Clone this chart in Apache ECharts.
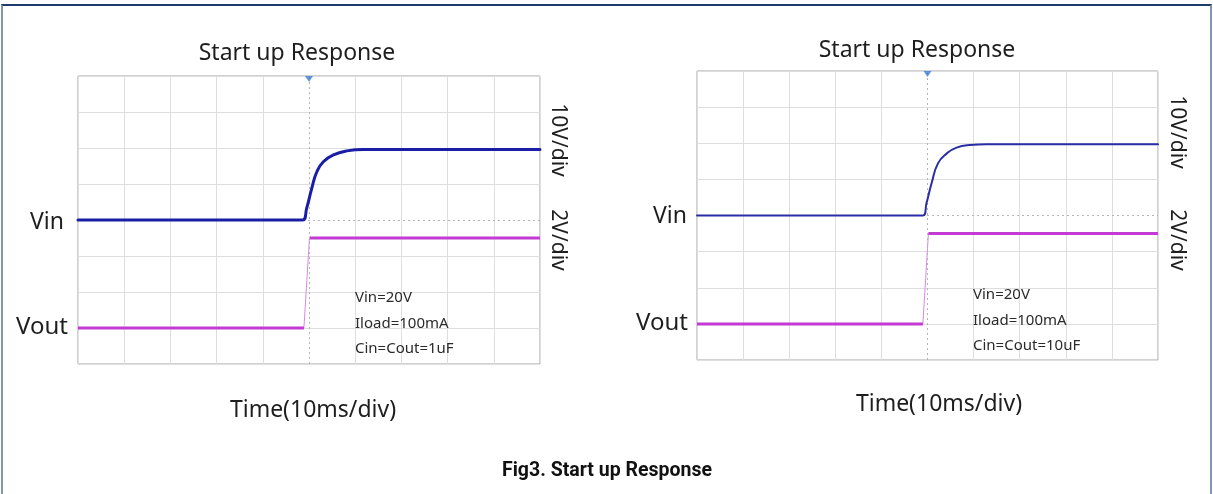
<!DOCTYPE html>
<html><head><meta charset="utf-8">
<script src="https://cdn.jsdelivr.net/npm/echarts@6/dist/echarts.min.js"></script>
<style>
html,body{margin:0;padding:0;background:#fff;width:1213px;height:494px;overflow:hidden}
#frame{position:absolute;left:1px;top:4px;width:1211px;height:492px;border-top:2px solid #1d3a6c;border-left:2px solid #8095b0;border-right:2px solid #8095b0;box-sizing:border-box}
#chart{position:absolute;left:0;top:0;width:1213px;height:494px}
</style></head><body>
<div id="frame"></div><div id="chart"></div>
<script>
// Time axis: 10 ms/div, trigger at 0
const timeRange = [-50, 50, 10];
// Vin channel: 10 V/div, zero at 4th division; Vout channel: 2 V/div, zero at 1st division
const vinRange = [-40, 40, 10];
const voutRange = [-2, 14, 2];
const triggerTime = [0];

// Left scope: Cin=Cout=1uF
const vinLeftT  = [-50, -1.4, -0.5, 0.6, 1.7, 3.1, 5.3, 8.2, 11.8, 50];
const vinLeftV  = [0,    0,    3.3,  8.8, 13.4, 16.2, 18.1, 19.2, 19.6, 19.6];
const voutLeftT = [-50, -1.1, 0.1, 50];
const voutLeftV = [0,    0,   5.0, 5.0];

// Right scope: Cin=Cout=10uF
const vinRightT  = [-50, -1.0, -0.2, 0.9, 2.3, 4.2, 6.3, 9.2, 12.8, 50];
const vinRightV  = [0,    0,    3.5,  9.0, 14.5, 17.2, 18.8, 19.5, 19.7, 19.7];
const voutRightT = [-50, -1.0, 0.2, 50];
const voutRightV = [0,    0,   5.0, 5.0];

const chartTitle = 'Start up Response';
const xName = 'Time(10ms/div)';
const vinDiv = '10V/div', voutDiv = '2V/div';
const notesLeft = ['Vin=20V', 'Iload=100mA', 'Cin=Cout=1uF'];
const notesRight = ['Vin=20V', 'Iload=100mA', 'Cin=Cout=10uF'];
const caption = 'Fig3. Start up Response';

function pts(t, v) { return t.map((x, i) => [x, v[i]]); }
function flats(t, v) {
  const out = [];
  for (let i = 0; i < t.length; i++) {
    out.push([t[i], v[i]]);
    if (i < t.length - 1 && Math.abs(v[i + 1] - v[i]) > 1 && (t[i + 1] - t[i]) < 3) out.push('-');
  }
  return out;
}

const gridCol = '#dedede';
const xSplitColors = [];
for (let i = 0; i <= 10; i++) xSplitColors.push(i === 5 ? 'rgba(0,0,0,0)' : gridCol);
const ySplitColors = [];
for (let i = 0; i <= 8; i++) ySplitColors.push(i === 4 ? 'rgba(0,0,0,0)' : gridCol);

const grids = [
  {left: 78, top: 76, width: 462, height: 288},
  {left: 697, top: 71, width: 461, height: 289}
];

function xAx(g) {
  return {type: 'value', gridIndex: g, min: timeRange[0], max: timeRange[1], interval: timeRange[2],
    axisLine: {show: false}, axisTick: {show: false}, axisLabel: {show: false},
    splitLine: {show: true, lineStyle: {color: xSplitColors, width: 1}}};
}
function yAx(g, r, split) {
  return {type: 'value', gridIndex: g, min: r[0], max: r[1], interval: r[2],
    axisLine: {show: false}, axisTick: {show: false}, axisLabel: {show: false},
    splitLine: {show: split, lineStyle: {color: ySplitColors, width: 1}}};
}

const font = '"Noto Sans", "DejaVu Sans", sans-serif';
const txtCol = '#1e1e1e';

function scopeSeries(gi, vinT, vinV, voutT, voutV, vinColor, vinWidth) {
  const yv = gi * 2, yo = gi * 2 + 1;
  return [
    {type: 'line', xAxisIndex: gi, yAxisIndex: yv, data: [[triggerTime[0], 0]], showSymbol: false, silent: true, z: 1,
      lineStyle: {width: 0},
      markLine: {silent: true, symbol: 'none', label: {show: false}, animation: false,
        lineStyle: {type: [2, 3], color: '#b4b4b4', width: 1},
        data: [{xAxis: triggerTime[0]}, {yAxis: 0}]}},
    {type: 'line', xAxisIndex: gi, yAxisIndex: yo, data: pts(voutT, voutV), showSymbol: false, silent: true, z: 3,
      lineStyle: {color: '#d88ae6', width: 1}},
    {type: 'line', xAxisIndex: gi, yAxisIndex: yo, data: flats(voutT, voutV), showSymbol: false, silent: true, z: 4,
      connectNulls: false, lineStyle: {color: '#c43ad4', width: 3}},
    {type: 'line', xAxisIndex: gi, yAxisIndex: yv, data: pts(vinT, vinV), showSymbol: false, silent: true, z: 5,
      smooth: 0.5, lineStyle: {color: vinColor, width: vinWidth, join: 'round', cap: 'round'}},
    {type: 'scatter', xAxisIndex: gi, yAxisIndex: yv, data: [[triggerTime[0], vinRange[1]]], silent: true, z: 6,
      symbol: 'triangle', symbolRotate: 180, symbolSize: [8, 6], symbolOffset: [0, 3],
      itemStyle: {color: '#3b7bd8'}}
  ];
}

function txt(x, y, s, size, opts) {
  opts = opts || {};
  return {type: 'text', x: x, y: y, rotation: opts.rot || 0, silent: true, z: 10,
    style: {text: s, fill: opts.color || txtCol, font: (opts.weight || 'normal') + ' ' + size + 'px ' + (opts.family || font),
      align: opts.align || 'center', verticalAlign: 'middle', textAlign: opts.align || 'center', textVerticalAlign: 'middle'}};
}

const graphic = [
  txt(297, 53, chartTitle, 23),
  txt(917, 50, chartTitle, 23),
  txt(64, 222, 'Vin', 23, {align: 'right'}),
  txt(68, 327, 'Vout', 24, {align: 'right'}),
  txt(687, 216, 'Vin', 23, {align: 'right'}),
  txt(688, 323, 'Vout', 24, {align: 'right'}),
  txt(313, 410, xName, 23),
  txt(939, 404, xName, 23),
  txt(558, 140, vinDiv, 21, {rot: -Math.PI / 2}),
  txt(558, 240, voutDiv, 21, {rot: -Math.PI / 2}),
  txt(1177, 132, vinDiv, 21, {rot: -Math.PI / 2}),
  txt(1177, 240, voutDiv, 21, {rot: -Math.PI / 2}),
  txt(607, 471, caption, 19.5, {weight: 'bold', family: 'Roboto, "Noto Sans", sans-serif', color: '#111'})
];
notesLeft.forEach((s, i) => graphic.push(txt(355, 298 + i * 25.5, s, 15, {align: 'left', color: '#2a2a2a'})));
notesRight.forEach((s, i) => graphic.push(txt(973, 295 + i * 25.5, s, 15, {align: 'left', color: '#2a2a2a'})));

const option = {
  animation: false,
  backgroundColor: 'transparent',
  grid: grids.map(g => Object.assign({show: true, borderColor: '#a4a4a4', borderWidth: 1, backgroundColor: '#fff'}, g)),
  xAxis: [xAx(0), xAx(1)],
  yAxis: [yAx(0, vinRange, true), yAx(0, voutRange, false), yAx(1, vinRange, true), yAx(1, voutRange, false)],
  series: [].concat(
    scopeSeries(0, vinLeftT, vinLeftV, voutLeftT, voutLeftV, '#1a1ea6', 3),
    scopeSeries(1, vinRightT, vinRightV, voutRightT, voutRightV, '#2a2ea6', 2)
  ),
  graphic: graphic
};
const chart = echarts.init(document.getElementById('chart'), null, {renderer: 'canvas'});
chart.setOption(option);
</script>
</body></html>
